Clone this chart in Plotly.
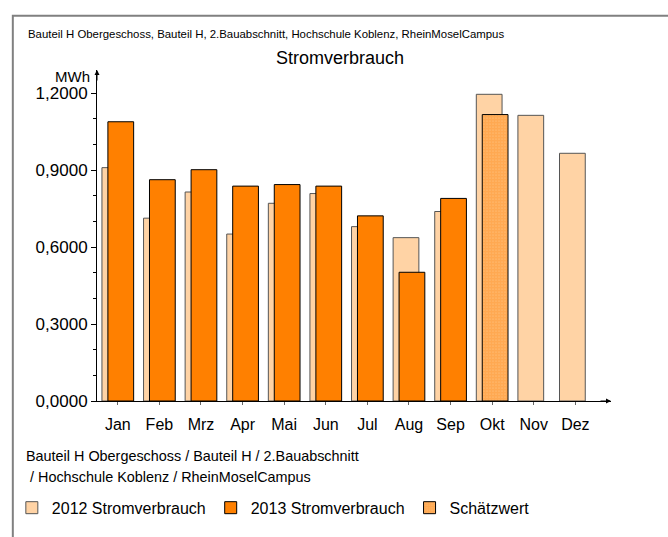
import plotly.graph_objects as go

months = ["Jan", "Feb", "Mrz", "Apr", "Mai", "Jun", "Jul", "Aug", "Sep", "Okt", "Nov", "Dez"]
values_2012 = [0.910, 0.713, 0.815, 0.651, 0.771, 0.809, 0.680, 0.637, 0.739, 1.196, 1.114, 0.966]
values_2013 = [1.089, 0.863, 0.902, 0.838, 0.844, 0.838, 0.722, 0.502, 0.790, None, None, None]
values_schaetz = [None, None, None, None, None, None, None, None, None, 1.117, None, None]
y_ticks = [0, 0.3, 0.6, 0.9, 1.2]

FONT = "Liberation Sans, Arial, sans-serif"
PEACH = "#FFD3A5"
ORANGE = "#FF8000"

W, H = 668, 537
L, R, T, B = 92, 57, 70, 126
pw, ph = W - L - R, H - T - B

def px(x):
    return (x - L) / pw

def py(y):
    return (H - B - y) / ph

x_idx = list(range(len(months)))

fig = go.Figure()
fig.add_trace(go.Bar(
    x=x_idx, y=values_2012, name="2012 Stromverbrauch",
    marker=dict(color=PEACH, line=dict(color="#555555", width=1)),
    offset=-0.381, width=0.619,
))
fig.add_trace(go.Bar(
    x=x_idx, y=values_2013, name="2013 Stromverbrauch",
    marker=dict(color=ORANGE, line=dict(color="#000000", width=1)),
    offset=-0.238, width=0.619,
))
fig.add_trace(go.Bar(
    x=x_idx, y=values_schaetz, name="Schätzwert",
    marker=dict(color=PEACH, line=dict(color="#000000", width=1),
                pattern=dict(shape=".", fgcolor=ORANGE, bgcolor=PEACH, size=3, solidity=0.85)),
    offset=-0.238, width=0.619,
))

fig.update_layout(
    width=W, height=H,
    margin=dict(l=L, r=R, t=T, b=B),
    paper_bgcolor="white", plot_bgcolor="white",
    barmode="overlay",
    separators=",.",
    font=dict(family=FONT, size=16, color="#000000"),
    showlegend=True,
    legend=dict(orientation="h", x=px(6), xanchor="left", y=py(521), yanchor="middle",
                font=dict(size=16), itemwidth=30, traceorder="normal",
                bgcolor="rgba(0,0,0,0)"),
    xaxis=dict(
        range=[-0.5, 11.857], tickmode="array", tickvals=x_idx, ticktext=months,
        showline=True, linecolor="#000000", linewidth=1,
        ticks="outside", ticklen=3, tickcolor="#666666", ticklabelstandoff=6,
        showgrid=False, zeroline=False, tickfont=dict(size=16),
    ),
    yaxis=dict(
        range=[0, 1.2908], tickvals=y_ticks, tickformat=".4f",
        showline=True, linecolor="#000000", linewidth=1,
        ticks="outside", ticklen=5, tickcolor="#000000",
        minor=dict(dtick=0.1, ticks="outside", ticklen=3, tickcolor="#000000"),
        showgrid=False, zeroline=False, tickfont=dict(size=17),
    ),
    shapes=[
        dict(type="rect", xref="paper", yref="paper",
             x0=px(7), x1=px(700), y0=py(600), y1=py(14),
             line=dict(color="#808080", width=2), fillcolor="rgba(0,0,0,0)", layer="below"),
    ],
    annotations=[
        dict(text="Bauteil H Obergeschoss, Bauteil H, 2.Bauabschnitt, Hochschule Koblenz, RheinMoselCampus",
             xref="paper", yref="paper", x=px(20), y=py(33), xanchor="left", yanchor="middle",
             showarrow=False, font=dict(size=11.4)),
        dict(text="Stromverbrauch", xref="paper", yref="paper", x=px(337), y=py(58),
             xanchor="center", yanchor="middle", showarrow=False, font=dict(size=18)),
        dict(text="MWh", xref="paper", yref="paper", x=px(87), y=py(77),
             xanchor="right", yanchor="middle", showarrow=False, font=dict(size=15)),
        dict(text="Bauteil H Obergeschoss / Bauteil H / 2.Bauabschnitt",
             xref="paper", yref="paper", x=px(18), y=py(468), xanchor="left", yanchor="middle",
             align="left", showarrow=False, font=dict(size=14.4)),
        dict(text=" / Hochschule Koblenz / RheinMoselCampus",
             xref="paper", yref="paper", x=px(18), y=py(489), xanchor="left", yanchor="middle",
             align="left", showarrow=False, font=dict(size=14.4)),
        # axis arrows
        dict(xref="paper", yref="paper", x=1, y=0, ax=-12, ay=0, axref="pixel", ayref="pixel",
             showarrow=True, arrowhead=2, arrowsize=1, arrowwidth=1, arrowcolor="#000000", text=""),
        dict(xref="paper", yref="paper", x=0, y=1, ax=0, ay=12, axref="pixel", ayref="pixel",
             showarrow=True, arrowhead=2, arrowsize=1, arrowwidth=1, arrowcolor="#000000", text=""),
    ],
)

fig.write_html("out.html", config={"displayModeBar": False},
               post_script="document.body.style.margin='0px';")
